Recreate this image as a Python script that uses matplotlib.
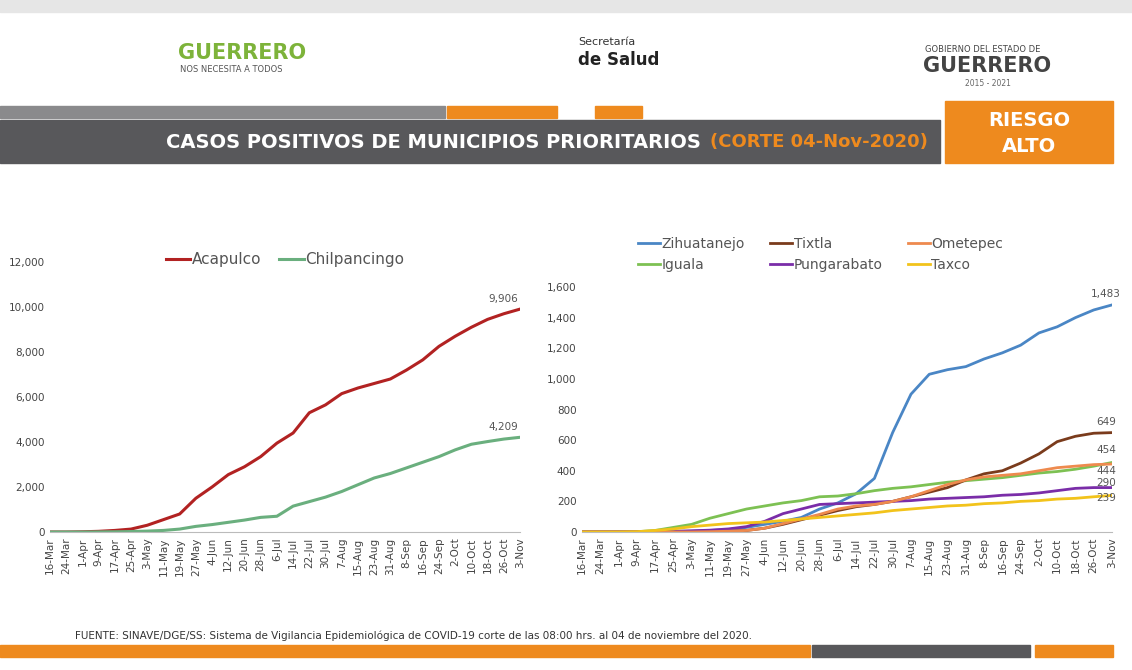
import matplotlib.pyplot as plt
import matplotlib.patches as mpatches
import numpy as np

# ── Data (values read at each tick date) ─────────────────────────────────────
dates = ["16-Mar", "24-Mar", "1-Apr", "9-Apr", "17-Apr", "25-Apr", "3-May", "11-May",
         "19-May", "27-May", "4-Jun", "12-Jun", "20-Jun", "28-Jun", "6-Jul", "14-Jul",
         "22-Jul", "30-Jul", "7-Aug", "15-Aug", "23-Aug", "31-Aug", "8-Sep", "16-Sep",
         "24-Sep", "2-Oct", "10-Oct", "18-Oct", "26-Oct", "3-Nov"]

acapulco = [0, 0, 10, 30, 70, 130, 300, 550, 800, 1500, 2000, 2550, 2900, 3350, 3950,
            4400, 5300, 5650, 6150, 6400, 6600, 6800, 7200, 7650, 8250, 8700, 9100,
            9450, 9700, 9906]
chilpancingo = [0, 0, 0, 5, 10, 20, 40, 70, 130, 250, 330, 430, 530, 650, 700, 1150,
                1350, 1550, 1800, 2100, 2400, 2600, 2850, 3100, 3350, 3650, 3900, 4020,
                4130, 4209]

zihuatanejo = [0, 0, 0, 0, 0, 2, 5, 10, 15, 30, 50, 70, 95, 150, 190, 250, 350, 650,
               900, 1030, 1060, 1080, 1130, 1170, 1220, 1300, 1340, 1400, 1450, 1483]
tixtla = [0, 0, 0, 0, 0, 0, 0, 2, 5, 10, 25, 50, 80, 110, 140, 165, 180, 200, 230, 260,
          290, 340, 380, 400, 450, 510, 590, 625, 645, 649]
ometepec = [0, 0, 0, 0, 0, 0, 0, 2, 5, 10, 25, 55, 85, 115, 150, 170, 180, 200, 230,
            270, 310, 340, 360, 370, 380, 400, 420, 430, 440, 444]
iguala = [0, 0, 0, 2, 10, 30, 50, 90, 120, 150, 170, 190, 205, 230, 235, 250, 270, 285,
          295, 310, 325, 335, 345, 355, 370, 385, 395, 410, 430, 454]
pungarabato = [0, 0, 0, 0, 2, 5, 8, 12, 20, 35, 70, 120, 150, 180, 185, 190, 195, 200,
               205, 215, 220, 225, 230, 240, 245, 255, 270, 285, 290, 290]
taxco = [0, 0, 0, 2, 10, 20, 35, 45, 55, 60, 65, 75, 85, 95, 105, 115, 125, 140, 150,
         160, 170, 175, 185, 190, 200, 205, 215, 220, 230, 239]

left_series = [("Acapulco", acapulco, "#B22222"), ("Chilpancingo", chilpancingo, "#6AAF7E")]
# ordered column-wise so the legend reads row by row like the original
right_series = [("Zihuatanejo", zihuatanejo, "#4A86C5"), ("Iguala", iguala, "#7DC153"),
                ("Tixtla", tixtla, "#7A3B1C"), ("Pungarabato", pungarabato, "#7A2DA8"),
                ("Ometepec", ometepec, "#EE8A4E"), ("Taxco", taxco, "#F2C31B")]

ORANGE = "#EE8A1E"
DARK = "#58585B"
GREEN = "#7DB33A"
TXT = "#555555"

fig = plt.figure(figsize=(11.32, 6.70), dpi=100)
W, H = 1132, 670


def px_rect(x0, y0, x1, y1, color):
    fig.patches.append(mpatches.Rectangle((x0 / W, 1 - y1 / H), (x1 - x0) / W, (y1 - y0) / H,
                                          transform=fig.transFigure, color=color, zorder=0))


def px_text(x, y, s, **kw):
    fig.text(x / W, 1 - y / H, s, **kw)


# ── Header ───────────────────────────────────────────────────────────────────
px_rect(0, 0, 1132, 12, "#E6E6E6")
px_text(178, 53, "GUERRERO", color=GREEN, fontsize=15, fontweight="bold", va="center")
px_text(180, 70, "NOS NECESITA A TODOS", color=TXT, fontsize=6, va="center")
px_text(578, 42, "Secretaría", color="#333333", fontsize=8, va="center")
px_text(578, 60, "de Salud", color="#222222", fontsize=12, fontweight="bold", va="center")
px_text(925, 50, "GOBIERNO DEL ESTADO DE", color="#444444", fontsize=6, va="center")
px_text(923, 66, "GUERRERO", color="#444444", fontsize=15, fontweight="bold", va="center")
px_text(988, 83, "2015 - 2021", color="#666666", fontsize=5.5, va="center", ha="center")

px_rect(0, 106, 445, 118, "#8A8A8C")
px_rect(447, 106, 557, 118, ORANGE)
px_rect(595, 106, 642, 118, ORANGE)
px_rect(0, 120, 940, 163, DARK)
px_rect(945, 101, 1113, 163, ORANGE)
px_text(1029, 121, "RIESGO", color="white", fontsize=14, fontweight="bold", ha="center", va="center")
px_text(1029, 146, "ALTO", color="white", fontsize=14, fontweight="bold", ha="center", va="center")
px_text(708, 142, "CASOS POSITIVOS DE MUNICIPIOS PRIORITARIOS ", color="white", fontsize=14,
        fontweight="bold", ha="right", va="center")
px_text(710, 142, "(CORTE 04-Nov-2020)", color=ORANGE, fontsize=13, fontweight="bold",
        ha="left", va="center")

# ── Footer ───────────────────────────────────────────────────────────────────
px_text(75, 636, "FUENTE: SINAVE/DGE/SS: Sistema de Vigilancia Epidemiológica de COVID-19 "
        "corte de las 08:00 hrs. al 04 de noviembre del 2020.", color="#333333", fontsize=7.5,
        va="center")
px_rect(0, 645, 810, 657, ORANGE)
px_rect(812, 645, 1030, 657, DARK)
px_rect(1035, 645, 1113, 657, ORANGE)

x = np.arange(len(dates))


def style(ax, ymax, step):
    ax.set_xlim(0, len(dates) - 1)
    ax.set_ylim(0, ymax)
    ax.set_yticks(np.arange(0, ymax + 1, step))
    ax.set_yticklabels([f"{v:,}" for v in np.arange(0, ymax + 1, step)], fontsize=7.5,
                       color="#444444")
    ax.set_xticks(x)
    ax.set_xticklabels(dates, rotation=90, fontsize=7.5, color="#444444")
    for s in ["top", "right", "left"]:
        ax.spines[s].set_visible(False)
    ax.spines["bottom"].set_color("#BBBBBB")
    ax.tick_params(length=0, pad=4)


# ── Left chart ───────────────────────────────────────────────────────────────
axL = fig.add_axes([50 / W, 1 - 532 / H, 470 / W, 270 / H])
for name, vals, col in left_series:
    axL.plot(x, vals, color=col, lw=2.2, label=name)
    axL.annotate(f"{vals[-1]:,}", (x[-1], vals[-1]), xytext=(-12, 5), textcoords="offset points",
                 fontsize=7.5, color="#555555", ha="center")
style(axL, 12000, 2000)
axL.legend(loc="lower center", bbox_to_anchor=(0.5, 0.93), ncol=2, frameon=False, fontsize=11,
           handlelength=1.6, handletextpad=0.1, columnspacing=1.2, labelcolor="#555555")

# ── Right chart ──────────────────────────────────────────────────────────────
axR = fig.add_axes([582 / W, 1 - 532 / H, 530 / W, 245 / H])
offsets = {"Zihuatanejo": 11, "Tixtla": 11, "Iguala": 12, "Ometepec": -7, "Pungarabato": 5,
           "Taxco": -3}
for name, vals, col in right_series:
    axR.plot(x, vals, color=col, lw=2.0, label=name)
    axR.annotate(f"{vals[-1]:,}", (x[-1], vals[-1]), xytext=(-6, offsets[name]),
                 textcoords="offset pixels", fontsize=7.5, color="#555555", ha="center",
                 va="center")
style(axR, 1600, 200)
axR.legend(loc="lower center", bbox_to_anchor=(0.45, 1.01), ncol=3, frameon=False, fontsize=10,
           handlelength=1.6, handletextpad=0.1, columnspacing=1.8, labelcolor="#555555")

fig.savefig("out.png", dpi=100)
